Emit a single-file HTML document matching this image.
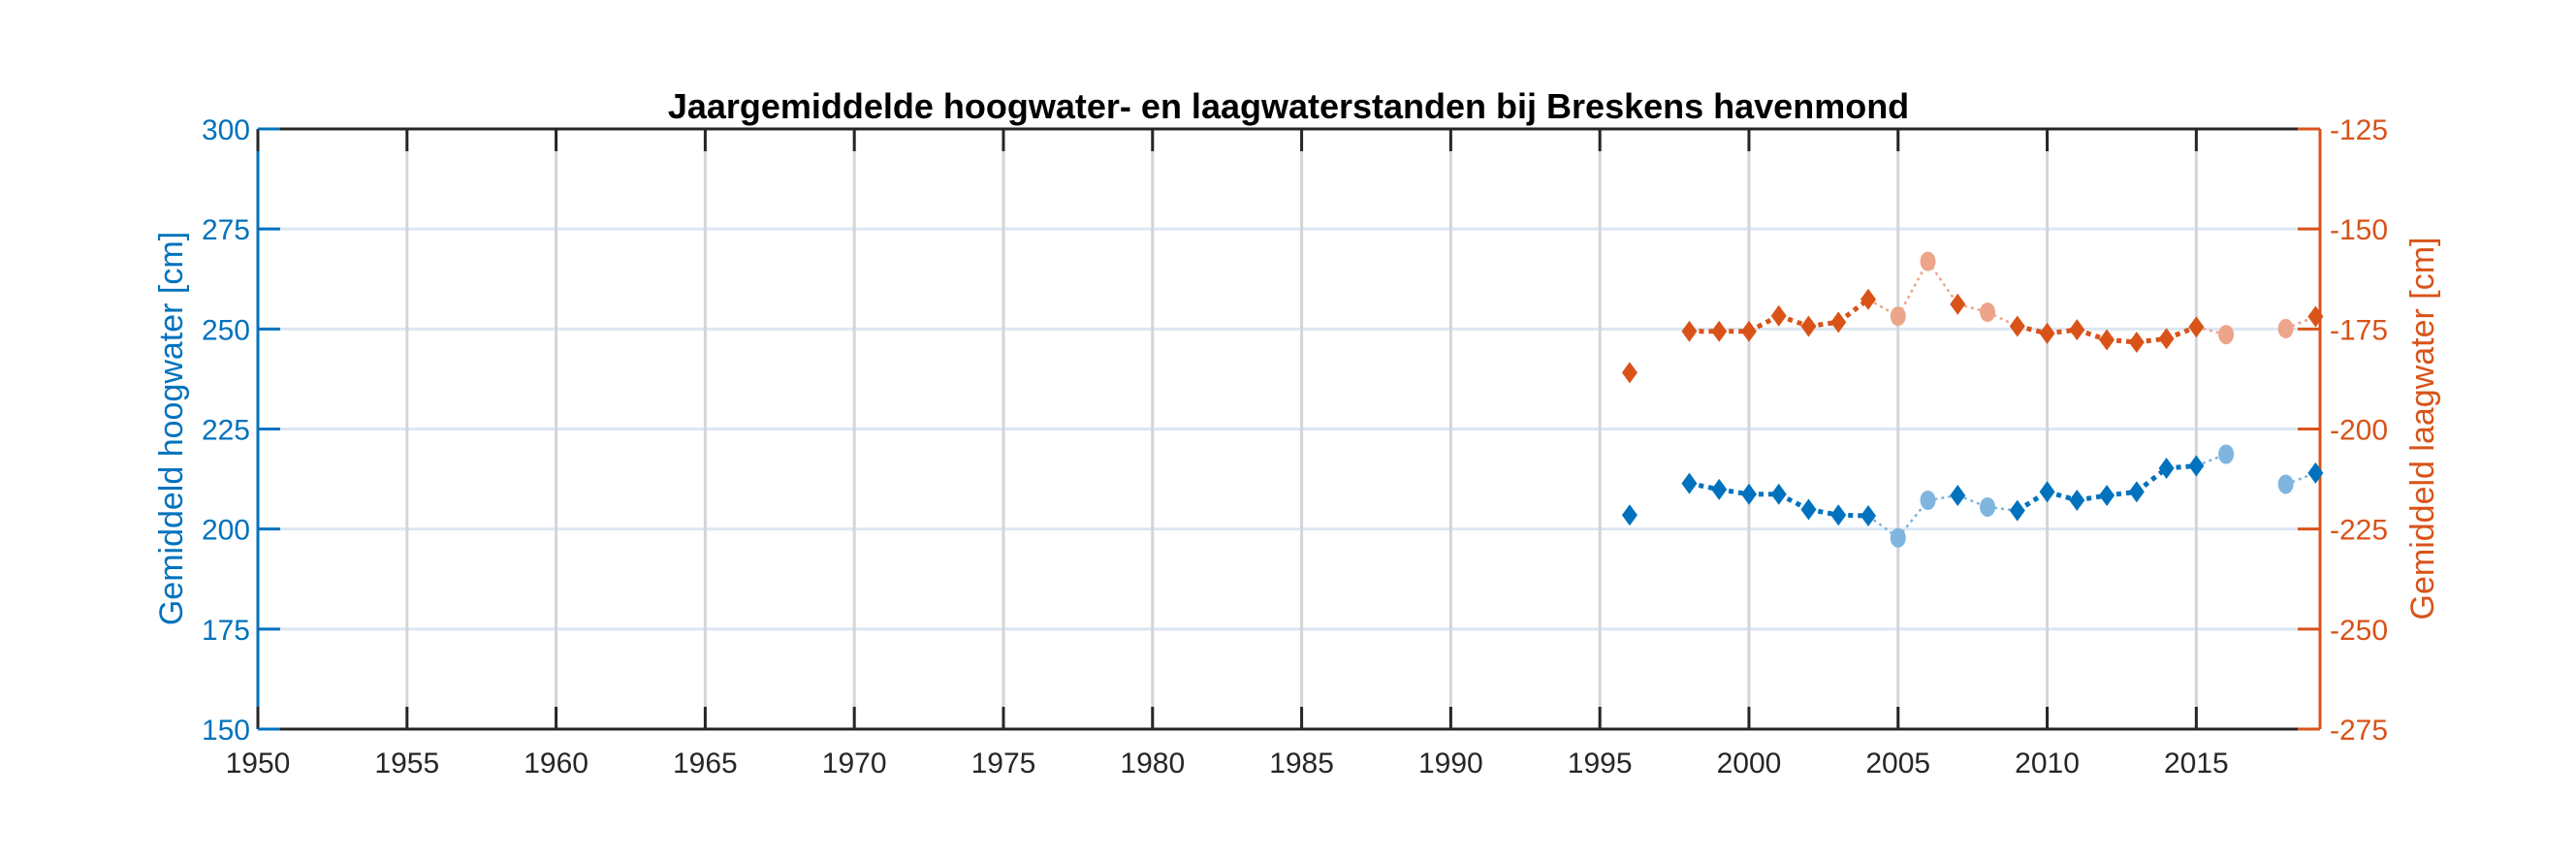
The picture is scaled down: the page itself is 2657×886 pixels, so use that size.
<!DOCTYPE html>
<html><head><meta charset="utf-8"><style>
html,body{margin:0;padding:0;background:#fff;}
svg{display:block;font-family:"Liberation Sans",Arial,sans-serif;}
</style></head><body>
<svg id="chart" width="2657" height="886" viewBox="0 0 2657 886" xmlns="http://www.w3.org/2000/svg">
<rect width="2657" height="886" fill="#fff"/>
<g id="grid"></g>
<g id="axes"></g>
<g id="series"></g>
<text x="1329" y="122" text-anchor="middle" font-size="36" font-weight="bold" fill="#000">Jaargemiddelde hoogwater- en laagwaterstanden bij Breskens havenmond</text>
<text transform="translate(188,442) rotate(-90)" text-anchor="middle" font-size="34" fill="#0072BD">Gemiddeld hoogwater [cm]</text>
<text transform="translate(2510,442) rotate(-90)" text-anchor="middle" font-size="34" fill="#D95319">Gemiddeld laagwater [cm]</text>
</svg>
<script>
const years = [1996,1998,1999,2000,2001,2002,2003,2004,2005,2006,2007,2008,2009,2010,2011,2012,2013,2014,2015,2016,2018,2019];
const highWater = [203.5,211.4,209.9,208.7,208.7,204.9,203.5,203.3,197.8,207.2,208.4,205.5,204.6,209.3,207.2,208.4,209.3,215.2,215.8,218.7,211.2,214.0];
const lowWater = [-185.9,-175.6,-175.6,-175.6,-171.7,-174.3,-173.3,-167.6,-171.8,-158.1,-168.8,-170.8,-174.3,-176.1,-175.2,-177.7,-178.3,-177.4,-174.5,-176.4,-174.9,-171.9];
const highLight = [0,0,0,0,0,0,0,0,1,1,0,1,0,0,0,0,0,0,0,1,1,0];
const lowLight = [0,0,0,0,0,0,0,0,1,1,0,1,0,0,0,0,0,0,0,1,1,0];
const xTicks = [1950,1955,1960,1965,1970,1975,1980,1985,1990,1995,2000,2005,2010,2015];
const leftTicks = [150,175,200,225,250,275,300];
const rightTicks = [-275,-250,-225,-200,-175,-150,-125];

const L=266,R=2393,T=133,B=752;
const xMin=1950,xMax=2019.15;
const x=v=>L+(v-xMin)/(xMax-xMin)*(R-L);
const yL=v=>B-(v-150)/150*(B-T);
const yR=v=>B-(v+275)/150*(B-T);
const NS='http://www.w3.org/2000/svg';
function mk(tag,attrs,parent){const e=document.createElementNS(NS,tag);for(const k in attrs)e.setAttribute(k,attrs[k]);parent.appendChild(e);return e;}
const grid=document.getElementById('grid'),axes=document.getElementById('axes'),series=document.getElementById('series');

leftTicks.forEach(v=>{if(v===150||v===300)return;
 const l=mk('line',{x1:L,x2:R,y1:yL(v),y2:yL(v),stroke:'#dbe7f3','stroke-width':3},grid);
 
 });
xTicks.forEach(v=>{if(v===1950)return;
 const l=mk('line',{x1:x(v),x2:x(v),y1:T,y2:B,stroke:'#d2d5da','stroke-width':3},grid);
 
 });

let a=mk('line',{x1:L,x2:R,y1:B,y2:B,stroke:'#262626','stroke-width':3},axes);


a=mk('line',{x1:L,x2:R,y1:T,y2:T,stroke:'#262626','stroke-width':3},axes);


a=mk('line',{x1:L,x2:L,y1:T,y2:B,stroke:'#0072BD','stroke-width':3},axes);


a=mk('line',{x1:R,x2:R,y1:T,y2:B,stroke:'#D95319','stroke-width':3},axes);



xTicks.forEach(v=>{
 [[B,B-23],[T,T+23]].forEach(p=>{const t=mk('line',{x1:x(v),x2:x(v),y1:p[0],y2:p[1],stroke:'#262626','stroke-width':3},axes);
 
 });
 const tx=mk('text',{x:x(v),y:797,'text-anchor':'middle','font-size':30,fill:'#262626'},axes);
 tx.textContent=v;
 
 
});
leftTicks.forEach(v=>{
 const t=mk('line',{x1:L,x2:L+23,y1:yL(v),y2:yL(v),stroke:'#0072BD','stroke-width':3},axes);
 
 
 const tx=mk('text',{x:258,y:yL(v)+11,'text-anchor':'end','font-size':30,fill:'#0072BD'},axes);
 tx.textContent=v;
 
 
});
rightTicks.forEach(v=>{
 const t=mk('line',{x1:R,x2:R-23,y1:yR(v),y2:yR(v),stroke:'#D95319','stroke-width':3},axes);
 
 
 const tx=mk('text',{x:2403,y:yR(v)+11,'text-anchor':'start','font-size':30,fill:'#D95319'},axes);
 tx.textContent=v;
 
 
});

function drawSeries(vals,light,yf,dark,pale,name){
 for(let i=0;i<years.length-1;i++){
  if(years[i+1]-years[i]!==1)continue;
  const both=!light[i]&&!light[i+1];
  const s=mk('line',{x1:x(years[i]),y1:yf(vals[i]),x2:x(years[i+1]),y2:yf(vals[i+1]),stroke:both?dark:pale,'stroke-width':both?5:2.5,'stroke-dasharray':both?'5 5':'3 4'},series);
  
  
 }
 for(let i=0;i<years.length;i++){
  const cx=x(years[i]),cy=yf(vals[i]);
  let m;
  if(light[i]) m=mk('ellipse',{cx:cx,cy:cy,rx:8,ry:10,fill:pale},series);
  else m=mk('path',{d:`M${cx},${cy-11}L${cx+8},${cy}L${cx},${cy+11}L${cx-8},${cy}Z`,fill:dark},series);
  
  
 }
}
drawSeries(highWater,highLight,yL,'#0072BD','#7fb5de','high-water');
drawSeries(lowWater,lowLight,yR,'#D95319','#eca58a','low-water');
</script>
</body></html>
